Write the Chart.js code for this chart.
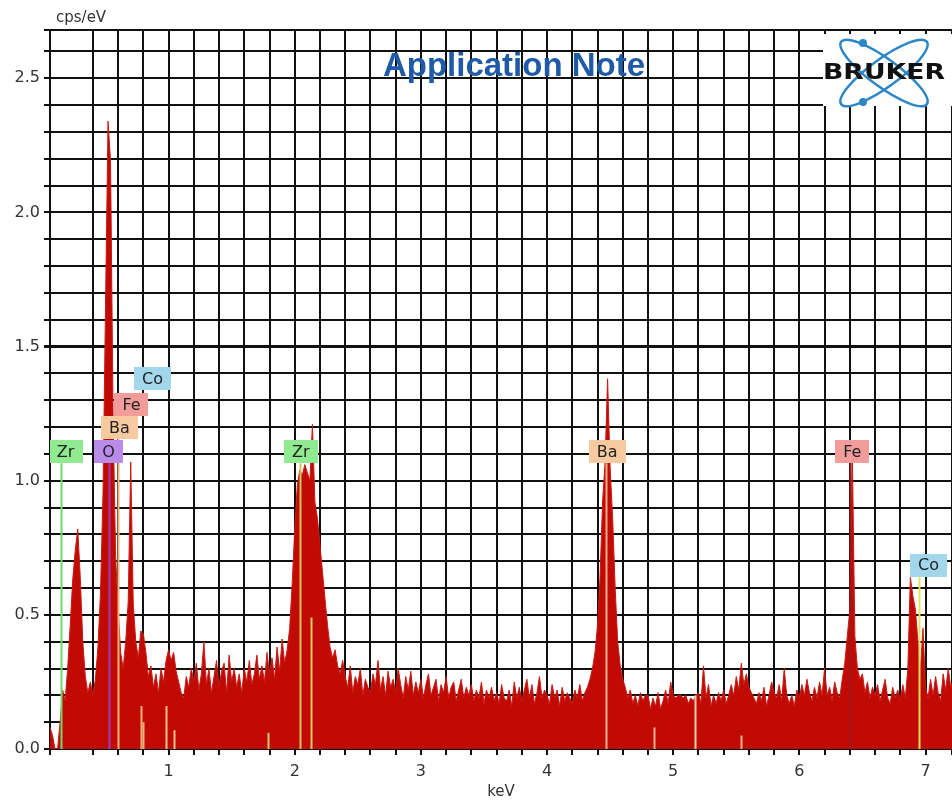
<!DOCTYPE html>
<html>
<head>
<meta charset="utf-8">
<script src="https://cdn.jsdelivr.net/npm/chart.js@4/dist/chart.umd.min.js"></script>
<style>
  html, body { margin: 0; padding: 0; background: #fff; overflow: hidden; }
  #wrap { width: 952px; height: 800px; position: relative; }
</style>
</head>
<body>
<div id="wrap"><canvas id="espectro"></canvas></div>
<script>
// Canales del espectro EDS (keV)
const channelStart = 0;
const channelWidth = 0.02;

// cps/eV por canal, una fila = 0.2 keV
const spectrumCps = [
  0, 0, 0, 0.08, 0.05, 0, 0, 0.1, 0.22, 0.18,                  // 0.0
  0.3, 0.46, 0.63, 0.74, 0.82, 0.64, 0.4, 0.27, 0.21, 0.25,     // 0.2
  0.2, 0.26, 0.38, 0.58, 0.95, 1.65, 2.34, 2.19, 1.25, 0.72,    // 0.4
  0.52, 0.36, 0.3, 0.4, 0.55, 1.07, 0.54, 0.4, 0.34, 0.44,      // 0.6
  0.43, 0.36, 0.27, 0.31, 0.23, 0.28, 0.21, 0.3, 0.25, 0.33,    // 0.8
  0.37, 0.33, 0.36, 0.29, 0.25, 0.21, 0.19, 0.27, 0.23, 0.3,    // 1.0
  0.25, 0.32, 0.22, 0.28, 0.4, 0.24, 0.3, 0.21, 0.27, 0.33,     // 1.2
  0.23, 0.29, 0.32, 0.21, 0.35, 0.25, 0.3, 0.23, 0.28, 0.21,    // 1.4
  0.3, 0.25, 0.33, 0.24, 0.28, 0.35, 0.26, 0.31, 0.25, 0.36,    // 1.6
  0.28, 0.34, 0.26, 0.38, 0.29, 0.41, 0.32, 0.37, 0.45, 0.62,   // 1.8
  0.82, 0.98, 1.04, 1.02, 1.06, 1.03, 1.0, 1.21, 0.92, 0.86,    // 2.0
  0.76, 0.66, 0.56, 0.46, 0.38, 0.34, 0.37, 0.31, 0.28, 0.33,   // 2.2
  0.27, 0.23, 0.31, 0.21, 0.27, 0.24, 0.3, 0.2, 0.26, 0.23,     // 2.4
  0.21, 0.28, 0.24, 0.33, 0.22, 0.27, 0.2, 0.29, 0.23, 0.26,    // 2.6
  0.21, 0.3, 0.24, 0.19, 0.27, 0.22, 0.29, 0.2, 0.25, 0.21,     // 2.8
  0.26, 0.19, 0.24, 0.28, 0.2, 0.23, 0.26, 0.18, 0.24, 0.21,    // 3.0
  0.27, 0.19, 0.23, 0.25, 0.18, 0.22, 0.26, 0.19, 0.23, 0.2,    // 3.2
  0.24, 0.18, 0.22, 0.19, 0.25, 0.17, 0.22, 0.19, 0.23, 0.18,   // 3.4
  0.21, 0.17, 0.24, 0.19, 0.18, 0.22, 0.16, 0.25, 0.19, 0.23,   // 3.6
  0.18, 0.22, 0.26, 0.19, 0.24, 0.17, 0.21, 0.27, 0.19, 0.22,   // 3.8
  0.2, 0.17, 0.24, 0.19, 0.22, 0.16, 0.23, 0.18, 0.21, 0.19,    // 4.0
  0.17, 0.22, 0.19, 0.24, 0.18, 0.21, 0.23, 0.26, 0.3, 0.36,    // 4.2
  0.46, 0.64, 0.92, 1.07, 1.38, 1.05, 0.86, 0.6, 0.4, 0.31,     // 4.4
  0.26, 0.23, 0.19, 0.22, 0.17, 0.2, 0.16, 0.21, 0.18, 0.2,     // 4.6
  0.2, 0.15, 0.19, 0.16, 0.21, 0.15, 0.18, 0.22, 0.17, 0.25,    // 4.8
  0.2, 0.19, 0.2, 0.2, 0.19, 0.2, 0.17, 0.19, 0.18, 0.2,        // 5.0
  0.21, 0.17, 0.31, 0.19, 0.24, 0.16, 0.2, 0.17, 0.21, 0.18,    // 5.2
  0.22, 0.17, 0.2, 0.24, 0.2, 0.27, 0.22, 0.32, 0.24, 0.28,     // 5.4
  0.23, 0.21, 0.19, 0.17, 0.21, 0.18, 0.23, 0.16, 0.2, 0.25,    // 5.6
  0.21, 0.19, 0.24, 0.18, 0.3, 0.2, 0.17, 0.2, 0.16, 0.22,      // 5.8
  0.19, 0.24, 0.2, 0.26, 0.21, 0.18, 0.23, 0.19, 0.25, 0.2,     // 6.0
  0.3, 0.2, 0.23, 0.18, 0.25, 0.21, 0.19, 0.26, 0.32, 0.42,     // 6.2
  0.52, 1.1, 0.42, 0.3, 0.26, 0.28, 0.21, 0.25, 0.19, 0.23,     // 6.4
  0.2, 0.24, 0.18, 0.22, 0.26, 0.19, 0.17, 0.23, 0.19, 0.22,    // 6.6
  0.18, 0.24, 0.19, 0.3, 0.64, 0.57, 0.52, 0.4, 0.3, 0.45,      // 6.8
  0.23, 0.19, 0.26, 0.2, 0.27, 0.21, 0.18, 0.28, 0.22, 0.3,     // 7.0
  0.23, 0.26, 0.21, 0.24                                         // 7.2
];

// Lineas de elementos identificados
const markerElements = ['Zr', 'O', 'Ba', 'Fe', 'Co', 'Zr', 'Ba', 'Fe', 'Co'];
const markerEnergies = [0.151, 0.525, 0.600, 0.705, 0.776, 2.042, 4.466, 6.404, 6.950];

// Lineas ajustadas (barras claras)
const fitEnergies = [0.78, 0.80, 0.98, 1.04, 1.79, 2.13, 4.85, 5.17, 5.54];
const fitHeights = [0.16, 0.10, 0.16, 0.07, 0.06, 0.49, 0.08, 0.20, 0.05];

// Posicion de etiquetas (centro en keV, nivel en cps/eV)
const labelLayout = {
  center: [0.183, 0.524, 0.611, 0.706, 0.873, 2.048, 4.476, 6.420, 7.024],
  level: [1.108, 1.108, 1.198, 1.284, 1.381, 1.108, 1.108, 1.108, 0.685]
};

const elementColors = {
  Zr: { box: '#90ea90', line: '#6fd86f' },
  O: { box: '#b98ce9', line: '#9a3fb8' },
  Ba: { box: '#f8caa0', line: '#f2b27a' },
  Fe: { box: '#f39c9c', line: '#9c1818' },
  Co: { box: '#a2d6ea', line: '#e6e25a' }
};
// lineas que se ven en la imagen (las de Fe y Co bajas quedan ocultas)
const markerLineColor = ['#6fd86f', '#9a3fb8', '#f2b27a', null, null, '#cfc65a', '#f5b08a', '#9c1818', '#e6e25a'];
const fitColors = ['#f2b27a', '#f2b27a', '#f5c090', '#f5c090', '#d8c860', '#d8d060', '#f5b08a', '#f8d0a8', '#f5b08a'];

const spectrumPoints = spectrumCps.map((v, i) => ({ x: channelStart + i * channelWidth, y: v }));

const isMultiple = (v, step) => {
  const r = Math.round(v / step);
  return Math.abs(v / step - r) < 1e-6 ? r : null;
};

function drawLogo(ctx) {
  ctx.save();
  ctx.fillStyle = '#fff';
  ctx.fillRect(823, 34, 129, 72);
  const cx = 884, cy = 73;
  ctx.strokeStyle = '#2b87c6';
  ctx.lineWidth = 2.5;
  [0.63, -0.63].forEach((a) => {
    ctx.beginPath();
    ctx.ellipse(cx, cy, 53, 14, a, 0, Math.PI * 2);
    ctx.stroke();
  });
  ctx.fillStyle = '#2b87c6';
  [[863, 43], [863, 102]].forEach(([px, py]) => {
    ctx.beginPath();
    ctx.arc(px, py, 4, 0, Math.PI * 2);
    ctx.fill();
  });
  ctx.font = 'bold 21px "DejaVu Sans"';
  const w = ctx.measureText('BRUKER').width;
  ctx.translate(cx, cy);
  ctx.scale(122 / w, 1);
  ctx.fillStyle = '#111';
  ctx.textAlign = 'center';
  ctx.textBaseline = 'middle';
  ctx.fillText('BRUKER', 0, 1);
  ctx.restore();
}

const overlay = {
  id: 'overlay',
  afterDatasetsDraw(chart) {
    const { ctx, chartArea } = chart;
    const xs = chart.scales.x;
    const ys = chart.scales.y;
    ctx.save();
    ctx.beginPath();
    ctx.rect(chartArea.left, chartArea.top, chartArea.right - chartArea.left, chartArea.bottom - chartArea.top);
    ctx.clip();

    // barras de ajuste
    ctx.lineWidth = 2;
    fitEnergies.forEach((e, i) => {
      const px = Math.round(xs.getPixelForValue(e)) + 0.5;
      ctx.strokeStyle = fitColors[i];
      ctx.beginPath();
      ctx.moveTo(px, ys.getPixelForValue(0));
      ctx.lineTo(px, ys.getPixelForValue(fitHeights[i]));
      ctx.stroke();
    });

    // lineas de marcadores
    ctx.font = '16px "DejaVu Sans"';
    const boxH = 23;
    markerEnergies.forEach((e, i) => {
      const col = markerLineColor[i];
      if (!col) return;
      const px = Math.round(xs.getPixelForValue(e)) + 0.5;
      const top = ys.getPixelForValue(labelLayout.level[i]) + boxH / 2;
      ctx.strokeStyle = col;
      ctx.lineWidth = 2;
      ctx.beginPath();
      ctx.moveTo(px, ys.getPixelForValue(0));
      ctx.lineTo(px, top);
      ctx.stroke();
    });

    // etiquetas
    ctx.textAlign = 'center';
    ctx.textBaseline = 'middle';
    markerElements.forEach((el, i) => {
      const cx = xs.getPixelForValue(labelLayout.center[i]);
      const cy = ys.getPixelForValue(labelLayout.level[i]);
      const w = ctx.measureText(el).width + 16;
      ctx.fillStyle = elementColors[el].box;
      ctx.fillRect(Math.round(cx - w / 2), Math.round(cy - boxH / 2), Math.round(w), boxH);
      ctx.fillStyle = '#222';
      ctx.fillText(el, cx, cy + 1);
    });
    ctx.restore();

    // titulo
    ctx.save();
    ctx.font = 'bold 33px "Liberation Sans"';
    ctx.fillStyle = '#1f5aa8';
    ctx.textAlign = 'center';
    ctx.textBaseline = 'middle';
    ctx.fillText('Application Note', 514, 67);
    ctx.font = '15px "DejaVu Sans"';
    ctx.fillStyle = '#333';
    ctx.textAlign = 'left';
    ctx.fillText('cps/eV', 56, 18);
    ctx.restore();

    drawLogo(ctx);
  }
};

const gridWidth = (ctx) => (ctx.tick && Math.abs(ctx.tick.value - 1.5) < 1e-6 ? 3 : 2);

const config = {
  type: 'line',
  data: {
    datasets: [
      {
        label: 'Espectro',
        data: spectrumPoints,
        fill: 'origin',
        backgroundColor: '#c20a04',
        borderColor: '#c91a12',
        borderWidth: 1,
        pointRadius: 0,
        tension: 0
      }
    ]
  },
  options: {
    animation: false,
    responsive: true,
    maintainAspectRatio: false,
    layout: { padding: { top: 30, right: 0, bottom: 0, left: 0 } },
    plugins: {
      legend: { display: false },
      tooltip: { enabled: false }
    },
    scales: {
      x: {
        type: 'linear',
        min: 0.06,
        max: 7.21,
        border: { color: '#111', width: 2 },
        grid: { color: '#111', lineWidth: 2, tickLength: 6, tickColor: '#111' },
        ticks: {
          stepSize: 0.2,
          autoSkip: false,
          maxRotation: 0,
          padding: 7,
          color: '#333',
          font: { family: 'DejaVu Sans', size: 16 },
          callback: (v) => {
            const r = isMultiple(v, 1);
            return r !== null ? String(r) : '';
          }
        },
        title: {
          display: true,
          text: 'keV',
          color: '#333',
          font: { family: 'DejaVu Sans', size: 15 },
          padding: { top: 0, bottom: -1 }
        },
        afterFit: (scale) => {
          scale.height = 51;
          scale.paddingRight = 0;
        }
      },
      y: {
        min: 0,
        max: 2.68,
        border: { color: '#111', width: 2 },
        grid: { color: '#111', lineWidth: gridWidth, tickLength: 6, tickColor: '#111' },
        ticks: {
          stepSize: 0.1,
          autoSkip: false,
          padding: 4,
          color: '#333',
          font: { family: 'DejaVu Sans', size: 16 },
          callback: (v) => {
            const r = isMultiple(v, 0.5);
            return r !== null ? (r * 0.5).toFixed(1) : '';
          }
        },
        afterFit: (scale) => { scale.width = 50; }
      }
    }
  },
  plugins: [overlay]
};

window.addEventListener('DOMContentLoaded', () => {
  const ctx = document.getElementById('espectro').getContext('2d');
  new Chart(ctx, config);
});
</script>
</body>
</html>
